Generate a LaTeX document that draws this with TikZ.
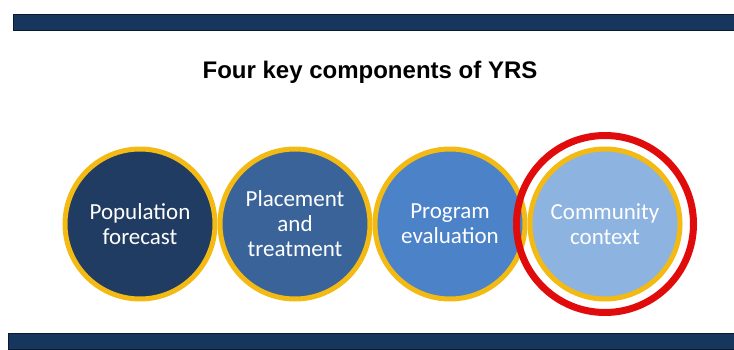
\documentclass[tikz,border=0pt]{standalone}
\usepackage{fontspec}
\usepackage[usenames,dvipsnames]{xcolor}
\setmainfont{Carlito}
\newfontfamily\headfont{Liberation Sans}
\definecolor{barblue}{HTML}{17365D}
\definecolor{baredge}{HTML}{0B1A2E}
\definecolor{ringgold}{HTML}{F2BA12}
\definecolor{ringred}{HTML}{E00B0B}
\definecolor{popblue}{HTML}{213C62}
\definecolor{placeblue}{HTML}{3A6499}
\definecolor{progblue}{HTML}{4B82C8}
\definecolor{commblue}{HTML}{8DB3E1}

\begin{document}
\begin{tikzpicture}[x=1pt, y=1pt,
  part/.style={circle, draw=ringgold, line width=5pt, minimum size=150pt,
    inner sep=0pt, text=white, align=center, font=\fontsize{23}{25}\selectfont},
  bar/.style={fill=barblue, draw=baredge, line width=1pt}]

\useasboundingbox (0,0) rectangle (734,349);

\draw [bar] (13,318) rectangle (734,334);
\draw [bar] (8,0) rectangle (734,16);

\node (title) at (370,277) {\headfont\bfseries\fontsize{24}{28}\selectfont Four key components of YRS};

\node [part, fill=popblue] (pop) at (140,125) {Population\\forecast};
\node [part, fill=placeblue] (place) at (295,125) {Placement\\and\\treatment};
\node [part, fill=progblue] (prog) at (450,125) {Program\\evaluation};
\node [part, fill=commblue] (comm) at (605,125) {Community\\context};

\draw [ringred, line width=7pt] (comm.center) circle (88.5);

\end{tikzpicture}
\end{document}
